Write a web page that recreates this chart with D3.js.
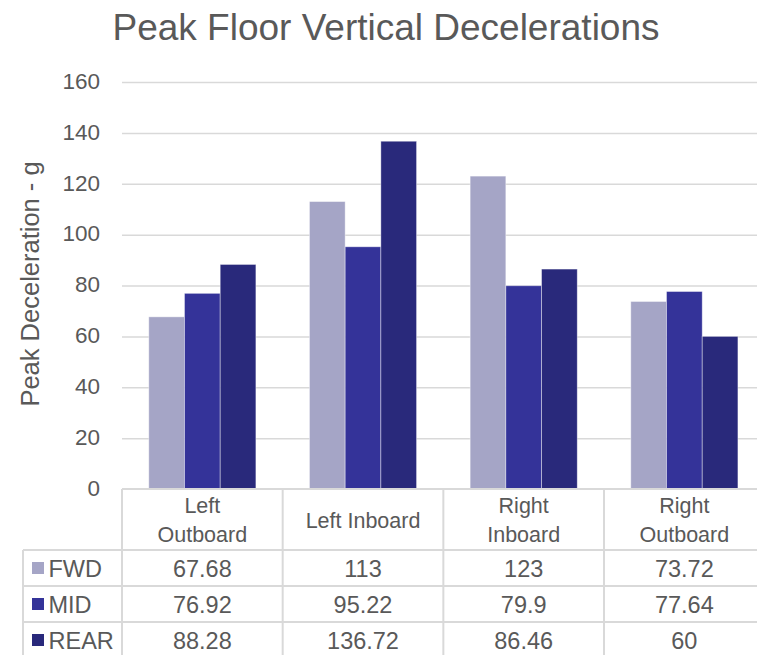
<!DOCTYPE html>
<html>
<head>
<meta charset="utf-8">
<script src="https://cdn.jsdelivr.net/npm/d3@7"></script>
<style>
  html, body { margin: 0; padding: 0; background: #fff; }
  svg { display: block; font-family: "Liberation Sans", Arial, sans-serif; }
</style>
</head>
<body>
<div id="chart"></div>
<script>
// Peak floor vertical decelerations by seat position
const categories = [["Left", "Outboard"], ["Left Inboard"], ["Right", "Inboard"], ["Right", "Outboard"]];
const seriesNames = ["FWD", "MID", "REAR"];
const fwd  = [67.68, 113, 123, 73.72];
const mid  = [76.92, 95.22, 79.9, 77.64];
const rear = [88.28, 136.72, 86.46, 60];
const yTicks = [0, 20, 40, 60, 80, 100, 120, 140, 160];
const colors = ["#A5A5C6", "#343399", "#29297B"];

const series = [fwd, mid, rear];
const W = 757, H = 655;
const plotLeft = 122, plotRight = 764.7, plotTop = 82, plotBottom = 489;
const headerH = 61, rowH = 36, legendLeft = 23;
const textColor = "#595959", gridColor = "#D9D9D9";

const svg = d3.select("#chart").append("svg").attr("width", W).attr("height", H);

const catKeys = categories.map(c => c.join(" "));
const x0 = d3.scaleBand().domain(catKeys).range([plotLeft, plotRight]).padding(0);
const step = x0.bandwidth();
const barW = step / (3 + 1.5);
const x1 = d3.scaleBand().domain(seriesNames).range([barW * 0.75, step - barW * 0.75]).padding(0);
const y = d3.scaleLinear().domain([0, 160]).range([plotBottom, plotTop]);

// title
svg.append("text").attr("x", 386).attr("y", 39.5).attr("text-anchor", "middle")
  .attr("font-size", 37).attr("fill", textColor).text("Peak Floor Vertical Decelerations");

// y axis with gridlines
const yAxis = d3.axisLeft(y).tickValues(yTicks).tickSize(-(plotRight - plotLeft)).tickPadding(22);
const gy = svg.append("g").attr("transform", `translate(${plotLeft},0)`).call(yAxis);
gy.select(".domain").remove();
gy.selectAll(".tick line").attr("stroke", gridColor).attr("stroke-width", 1.5)
  .filter(d => d === 0).remove();
gy.selectAll(".tick text").attr("font-size", 22.5).attr("fill", textColor)
  .attr("dy", "0.28em")
  .attr("font-family", "Liberation Sans, Arial, sans-serif");

// y axis title
svg.append("text").attr("transform", `translate(38.5,284) rotate(-90)`)
  .attr("text-anchor", "middle").attr("font-size", 25.5).attr("fill", textColor)
  .text("Peak Deceleration - g");

// bars
const groups = svg.append("g").selectAll("g").data(catKeys).join("g")
  .attr("transform", d => `translate(${x0(d)},0)`);
groups.selectAll("rect")
  .data((d, i) => seriesNames.map((s, j) => ({ s, v: series[j][i], c: colors[j] })))
  .join("rect")
  .attr("x", d => x1(d.s)).attr("width", x1.bandwidth())
  .attr("y", d => y(d.v)).attr("height", d => y(0) - y(d.v))
  .attr("fill", d => d.c).attr("stroke", "#ffffff").attr("stroke-opacity", 0.5).attr("stroke-width", 0.8);

// data table
const tbl = svg.append("g").attr("stroke", gridColor).attr("stroke-width", 2);
const tableBottom = plotBottom + headerH + rowH * 3;
// horizontal lines
tbl.append("line").attr("x1", plotLeft).attr("x2", W + 10).attr("y1", plotBottom).attr("y2", plotBottom);
for (let r = 0; r <= 3; r++) {
  const yy = plotBottom + headerH + r * rowH;
  tbl.append("line").attr("x1", legendLeft).attr("x2", W + 10).attr("y1", yy).attr("y2", yy);
}
// vertical lines
tbl.append("line").attr("x1", legendLeft).attr("x2", legendLeft).attr("y1", plotBottom + headerH).attr("y2", tableBottom);
catKeys.forEach(k => {
  tbl.append("line").attr("x1", x0(k)).attr("x2", x0(k)).attr("y1", plotBottom).attr("y2", tableBottom);
});
tbl.append("line").attr("x1", plotRight).attr("x2", plotRight).attr("y1", plotBottom).attr("y2", tableBottom);

// category headers
categories.forEach((lines, i) => {
  const cx = x0(catKeys[i]) + step / 2;
  const cy = plotBottom + headerH / 2;
  const lh = 28.5;
  lines.forEach((t, k) => {
    svg.append("text").attr("x", cx).attr("y", cy + (k - (lines.length - 1) / 2) * lh + 8)
      .attr("text-anchor", "middle").attr("font-size", 21.5).attr("fill", textColor).text(t);
  });
});

// rows with legend keys and values
seriesNames.forEach((s, j) => {
  const cy = plotBottom + headerH + j * rowH + rowH / 2;
  svg.append("rect").attr("x", 32).attr("y", cy - 6).attr("width", 12).attr("height", 12).attr("fill", colors[j]);
  svg.append("text").attr("x", 48.5).attr("y", cy + 8.5).attr("font-size", 23.5).attr("fill", textColor).text(s);
  series[j].forEach((v, i) => {
    svg.append("text").attr("x", x0(catKeys[i]) + step / 2).attr("y", cy + 8.5)
      .attr("text-anchor", "middle").attr("font-size", 23.5).attr("fill", textColor).text(String(v));
  });
});
</script>
</body>
</html>
